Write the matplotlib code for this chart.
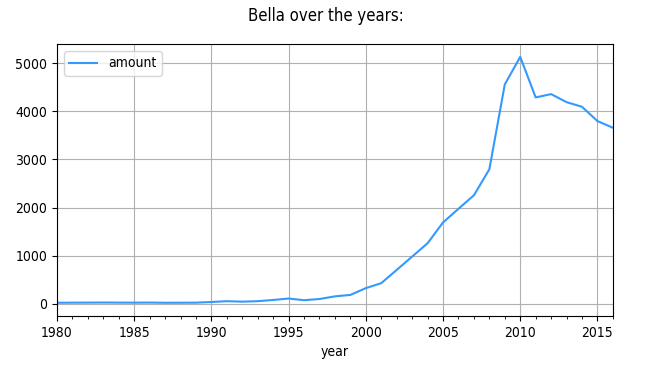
import matplotlib
matplotlib.use('Agg')
import matplotlib.pyplot as plt
from matplotlib.ticker import MultipleLocator

years = list(range(1980, 2017))
amount = [22, 24, 25, 27, 25, 24, 26, 22, 23, 24,
          38, 55, 45, 55, 80, 110, 75, 100, 155, 185,
          326, 429, 705, 981, 1259, 1690, 1975, 2255, 2795, 4558,
          5131, 4288, 4357, 4190, 4094, 3797, 3658]

plt.rcParams['font.family'] = ['DejaVu Sans']
plt.rcParams['font.stretch'] = 'condensed'

fig = plt.figure(figsize=(6.52, 3.66), dpi=100)
ax = fig.add_axes([0.0874, 0.137, 0.8526, 0.743])
ax.plot(years, amount, color='#3399ff', lw=1.5, label='amount')
ax.set_xlim(1980, 2016)
ax.set_ylim(-250, 5400)
ax.xaxis.set_major_locator(MultipleLocator(5))
ax.xaxis.set_minor_locator(MultipleLocator(1))
ax.set_yticks([0, 1000, 2000, 3000, 4000, 5000])
ax.grid(True, color='#b0b0b0', lw=0.8)
ax.set_xlabel('year')
ax.legend(loc='upper left')
fig.suptitle('Bella over the years:', y=0.98, fontsize=12)
fig.savefig('out.png', dpi=100)
